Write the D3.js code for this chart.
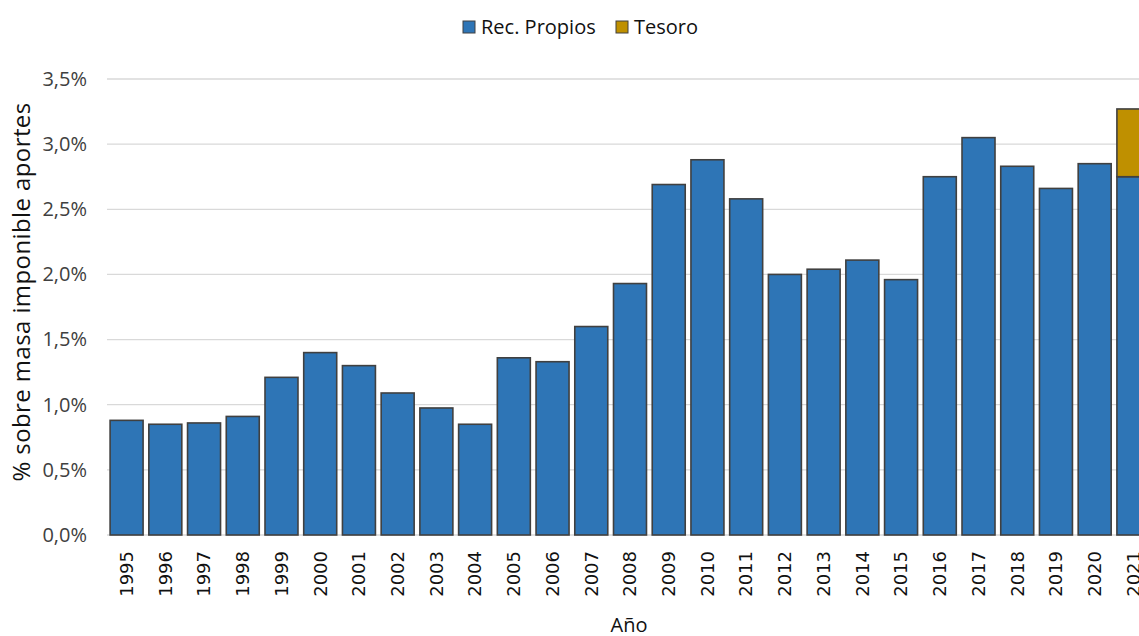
<!DOCTYPE html>
<html>
<head>
<meta charset="utf-8">
<script src="https://cdn.jsdelivr.net/npm/d3@7"></script>
<style>
  body { margin: 0; background: #fff; }
  svg { display: block; }
</style>
</head>
<body>
<script>
// data
var years = ["1995","1996","1997","1998","1999","2000","2001","2002","2003","2004","2005","2006","2007",
  "2008","2009","2010","2011","2012","2013","2014","2015","2016","2017","2018","2019","2020","2021"];
var recPropios = [0.88,0.85,0.86,0.91,1.21,1.40,1.30,1.09,0.975,0.85,1.36,1.33,1.60,
  1.93,2.69,2.88,2.58,2.00,2.04,2.11,1.96,2.75,3.05,2.83,2.66,2.85,2.75];
var tesoro = [0,0,0,0,0,0,0,0,0,0,0,0,0,0,0,0,0,0,0,0,0,0,0,0,0,0,0.52];
var seriesNames = ["Rec. Propios","Tesoro"];
var seriesColors = ["#2E75B6","#BF9000"];
var yTicks = [0,0.5,1,1.5,2,2.5,3,3.5];

var svgWidth = 1139;
var svgHeight = 636;
var margin = {top: 79, left: 107, bottom: 101};
var plotRight = 1153;
var height = svgHeight - margin.top - margin.bottom;
var textFont = "'Open Sans', sans-serif";

var svg = d3.select("body").append("svg")
  .attr("width", svgWidth)
  .attr("height", svgHeight);

var rows = years.map(function(y, i) {
  return {year: y, "Rec. Propios": recPropios[i], "Tesoro": tesoro[i]};
});
var stacked = d3.stack().keys(seriesNames)(rows);

var x = d3.scaleBand()
  .domain(years)
  .range([margin.left, plotRight])
  .paddingInner(0.148)
  .paddingOuter(0.08);

var y = d3.scaleLinear()
  .domain([0, 3.5])
  .range([margin.top + height, margin.top]);

var fmt = function(d) { return d.toFixed(1).replace(".", ",") + "%"; };

// gridlines
svg.append("g")
  .selectAll("line")
  .data(yTicks)
  .enter().append("line")
  .attr("x1", margin.left)
  .attr("x2", plotRight)
  .attr("y1", d => y(d))
  .attr("y2", d => y(d))
  .attr("stroke", "#d9d9d9")
  .attr("stroke-width", 1.3);

// y axis labels
var yAxis = svg.append("g")
  .attr("transform", `translate(${margin.left}, 0)`)
  .call(d3.axisLeft(y).tickValues(yTicks).tickFormat(fmt).tickSize(0).tickPadding(20));
yAxis.select(".domain").remove();
yAxis.selectAll("text")
  .attr("font-family", textFont)
  .attr("font-size", "20px")
  .attr("fill", "#404040");

// bars
svg.append("g")
  .selectAll("g")
  .data(stacked)
  .enter().append("g")
  .attr("fill", (d, i) => seriesColors[i])
  .selectAll("rect")
  .data(d => d.filter(p => p[1] - p[0] > 0))
  .enter().append("rect")
  .attr("x", d => x(d.data.year))
  .attr("width", x.bandwidth())
  .attr("y", d => y(d[1]))
  .attr("height", d => y(d[0]) - y(d[1]))
  .attr("stroke", "#404040")
  .attr("stroke-width", 1.6);

// x axis labels
var xAxis = svg.append("g")
  .attr("transform", `translate(0, ${y(0)})`)
  .call(d3.axisBottom(x).tickSize(0).tickPadding(0));
xAxis.select(".domain").remove();
xAxis.selectAll("text")
  .attr("font-family", "'DejaVu Sans', sans-serif")
  .attr("font-size", "18px")
  .attr("fill", "#111")
  .attr("text-anchor", "end")
  .attr("dy", "0.35em")
  .attr("transform", "translate(0, 16) rotate(-90)");

// axis titles
svg.append("text")
  .attr("x", 629)
  .attr("y", 632)
  .attr("text-anchor", "middle")
  .attr("font-family", textFont)
  .attr("font-size", "20px")
  .attr("fill", "#111")
  .text("Año");

svg.append("text")
  .attr("transform", "translate(30, 292) rotate(-90)")
  .attr("text-anchor", "middle")
  .attr("font-family", textFont)
  .attr("font-size", "24px")
  .attr("letter-spacing", "0.4px")
  .attr("fill", "#111")
  .text("% sobre masa imponible aportes");

// legend
var legend = svg.append("g").attr("transform", "translate(463, 27)");
var legendX = [0, 153];
seriesNames.forEach(function(name, i) {
  var g = legend.append("g").attr("transform", `translate(${legendX[i]}, 0)`);
  g.append("rect")
    .attr("x", 0).attr("y", -6)
    .attr("width", 12).attr("height", 12)
    .attr("fill", seriesColors[i])
    .attr("stroke", "#404040")
    .attr("stroke-width", 1);
  g.append("text")
    .attr("x", 18)
    .attr("y", 0)
    .attr("dy", "0.35em")
    .attr("font-family", textFont)
    .attr("font-size", "20px")
    .attr("fill", "#111")
    .text(name);
});
</script>
</body>
</html>
